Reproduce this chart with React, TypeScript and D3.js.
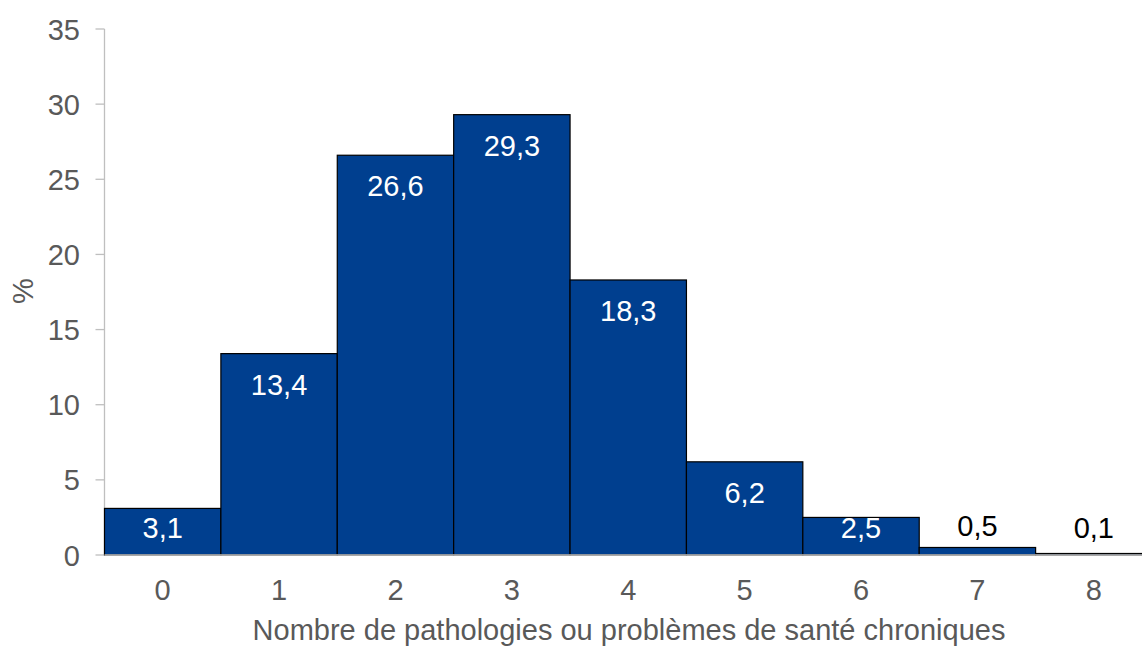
import React from "react";
import * as d3 from "d3";

const categories = ["0", "1", "2", "3", "4", "5", "6", "7", "8"];
const values = [3.1, 13.4, 26.6, 29.3, 18.3, 6.2, 2.5, 0.5, 0.1];
const yTicks = [0, 5, 10, 15, 20, 25, 30, 35];
const xTitle = "Nombre de pathologies ou problèmes de santé chroniques";
const yTitle = "%";

export default function App() {
  const W = 1142, H = 646;
  const left = 104.5, right = 1152, top = 29, bottom = 555;
  const x = d3.scaleBand().domain(categories).range([left, right]).padding(0);
  const y = d3.scaleLinear().domain([0, 35]).range([bottom, top]);
  const font = "'Liberation Sans', Arial, sans-serif";
  const gray = "#595959";
  const fs = 29;
  const fmt = (v: number) => v.toFixed(1).replace(".", ",");
  return (
    <svg width={W} height={H} style={{ position: "absolute", left: 0, top: 0, background: "#fff" }}>
      {/* y axis */}
      <line x1={left} x2={left} y1={y(35)} y2={y(0)} stroke="#bfbfbf" strokeWidth={1.3} />
      {yTicks.map((t) => (
        <g key={t}>
          <line x1={left - 9} x2={left} y1={y(t)} y2={y(t)} stroke="#bfbfbf" strokeWidth={1.3} />
          <text x={80} y={y(t) + 10.5} textAnchor="end" fontFamily={font} fontSize={fs} fill={gray}>
            {t}
          </text>
        </g>
      ))}
      {/* bars */}
      {categories.map((c, i) => {
        const v = values[i];
        const x0 = x(c)!;
        const bw = x.bandwidth();
        const yt = y(v);
        const inside = v >= 2;
        const ly = inside ? Math.min(yt + 41, 538) : Math.min(yt - 11, 538);
        return (
          <g key={c}>
            <rect x={x0} y={yt} width={bw} height={bottom - yt} fill="#003F8F" stroke="#000" strokeWidth={1.2} />
            <text x={x0 + bw / 2} y={ly} textAnchor="middle" fontFamily={font} fontSize={fs}
              fill={inside ? "#fff" : "#000"}>
              {fmt(v)}
            </text>
          </g>
        );
      })}
      {/* x axis */}
      <line x1={left} x2={W} y1={bottom} y2={bottom} stroke="#bfbfbf" strokeWidth={1.3} />
      {categories.map((c) => (
        <text key={c} x={x(c)! + x.bandwidth() / 2} y={600} textAnchor="middle" fontFamily={font} fontSize={fs} fill={gray}>
          {c}
        </text>
      ))}
      <text x={629} y={640} textAnchor="middle" fontFamily={font} fontSize={fs} fill={gray}>
        {xTitle}
      </text>
      <text transform={`translate(33,291) rotate(-90)`} textAnchor="middle" fontFamily={font} fontSize={fs} fill={gray}>
        {yTitle}
      </text>
    </svg>
  );
}
